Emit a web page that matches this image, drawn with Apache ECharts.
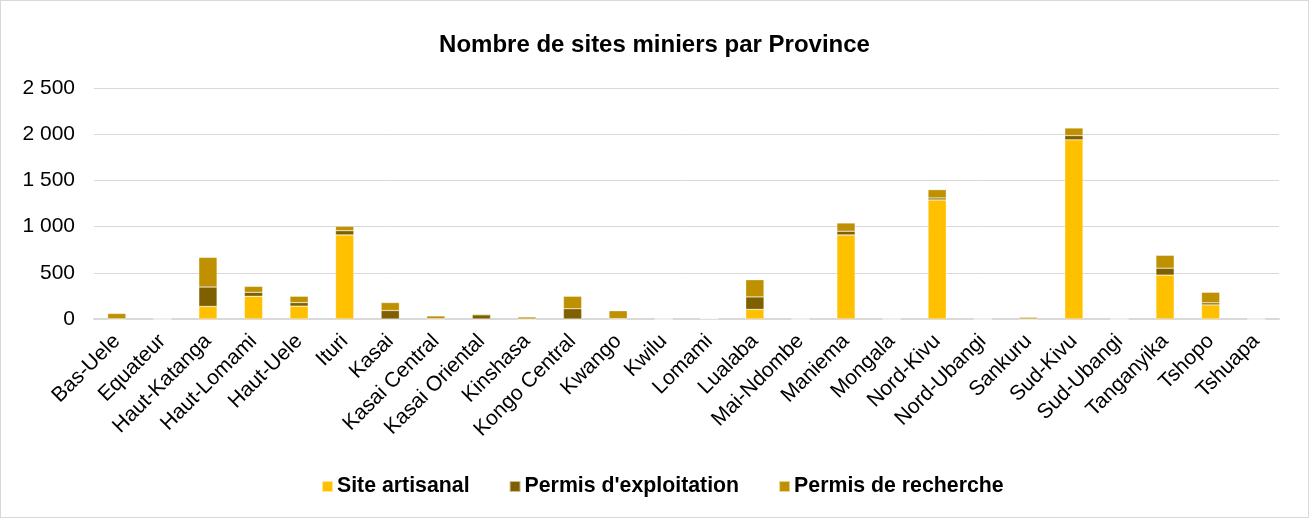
<!DOCTYPE html>
<html>
<head>
<meta charset="utf-8">
<script src="https://cdn.jsdelivr.net/npm/echarts@6/dist/echarts.min.js"></script>
<style>
    html, body { margin: 0; padding: 0; background: #fff; }
    #chart { width: 1309px; height: 518px; box-sizing: border-box; border: 1px solid #d9d9d9; }
</style>
</head>
<body>
<div id="chart"></div>
<script>
// provinces
var provinces = ['Bas-Uele', 'Equateur', 'Haut-Katanga', 'Haut-Lomami', 'Haut-Uele', 'Ituri', 'Kasai',
    'Kasai Central', 'Kasai Oriental', 'Kinshasa', 'Kongo Central', 'Kwango', 'Kwilu', 'Lomami', 'Lualaba',
    'Mai-Ndombe', 'Maniema', 'Mongala', 'Nord-Kivu', 'Nord-Ubangi', 'Sankuru', 'Sud-Kivu', 'Sud-Ubangi',
    'Tanganyika', 'Tshopo', 'Tshuapa'];

var siteArtisanal = [0, 0, 136, 246, 139, 910, 0, 0, 0, 0, 0, 0, 0, 5, 104, 0, 910, 0, 1289, 0, 0, 1939, 0, 475, 153, 0];
var permisExploitation = [2, 0, 210, 43, 39, 46, 92, 3, 45, 0, 111, 4, 0, 0, 135, 0, 40, 0, 21, 0, 0, 46, 0, 75, 22, 0];
var permisRecherche = [58, 0, 321, 64, 68, 47, 86, 30, 10, 22, 135, 85, 0, 0, 186, 0, 89, 0, 90, 0, 18, 82, 0, 139, 114, 0];

var font = 'Liberation Sans, Arial, sans-serif';

function barSerie(name, data, color) {
    return {
        name: name,
        type: 'bar',
        stack: 'total',
        barWidth: '40%',
        data: data,
        itemStyle: {
            color: color,
            borderColor: 'rgba(255,255,255,0.6)',
            borderWidth: 0.5
        }
    };
}

var myChart = echarts.init(document.getElementById('chart'));
myChart.setOption({
    animation: false,
    title: {
        text: 'Nombre de sites miniers par Province',
        left: 'center',
        top: 27,
        textStyle: { fontFamily: font, fontSize: 24, fontWeight: 'bold', color: '#000' }
    },
    legend: {
        top: 470,
        left: 315,
        itemWidth: 11,
        itemHeight: 11,
        itemGap: 39,
        icon: 'rect',
        textStyle: { fontFamily: font, fontSize: 21.3, fontWeight: 'bold', color: '#000', padding: [0, 0, 0, -1] }
    },
    grid: { left: 93, right: 29, top: 87, bottom: 198 },
    xAxis: {
        type: 'category',
        data: provinces,
        axisLine: { lineStyle: { color: '#d9d9d9', width: 2 } },
        axisTick: { show: false },
        axisLabel: {
            rotate: 45,
            interval: 0,
            margin: 19,
            fontFamily: font,
            fontSize: 21,
            color: '#000'
        }
    },
    yAxis: {
        type: 'value',
        min: 0,
        max: 2500,
        interval: 500,
        axisLine: { show: false },
        axisTick: { show: false },
        splitLine: { lineStyle: { color: '#d9d9d9', width: 1 } },
        axisLabel: {
            margin: 19,
            fontFamily: font,
            fontSize: 21,
            color: '#000',
            formatter: function (v) {
                return String(v).replace(/\B(?=(\d{3})+(?!\d))/g, ' ');
            }
        }
    },
    series: [
        barSerie('Site artisanal', siteArtisanal, '#FFC000'),
        barSerie("Permis d'exploitation", permisExploitation, '#7F6000'),
        barSerie('Permis de recherche', permisRecherche, '#BF9000')
    ]
});
</script>
</body>
</html>
